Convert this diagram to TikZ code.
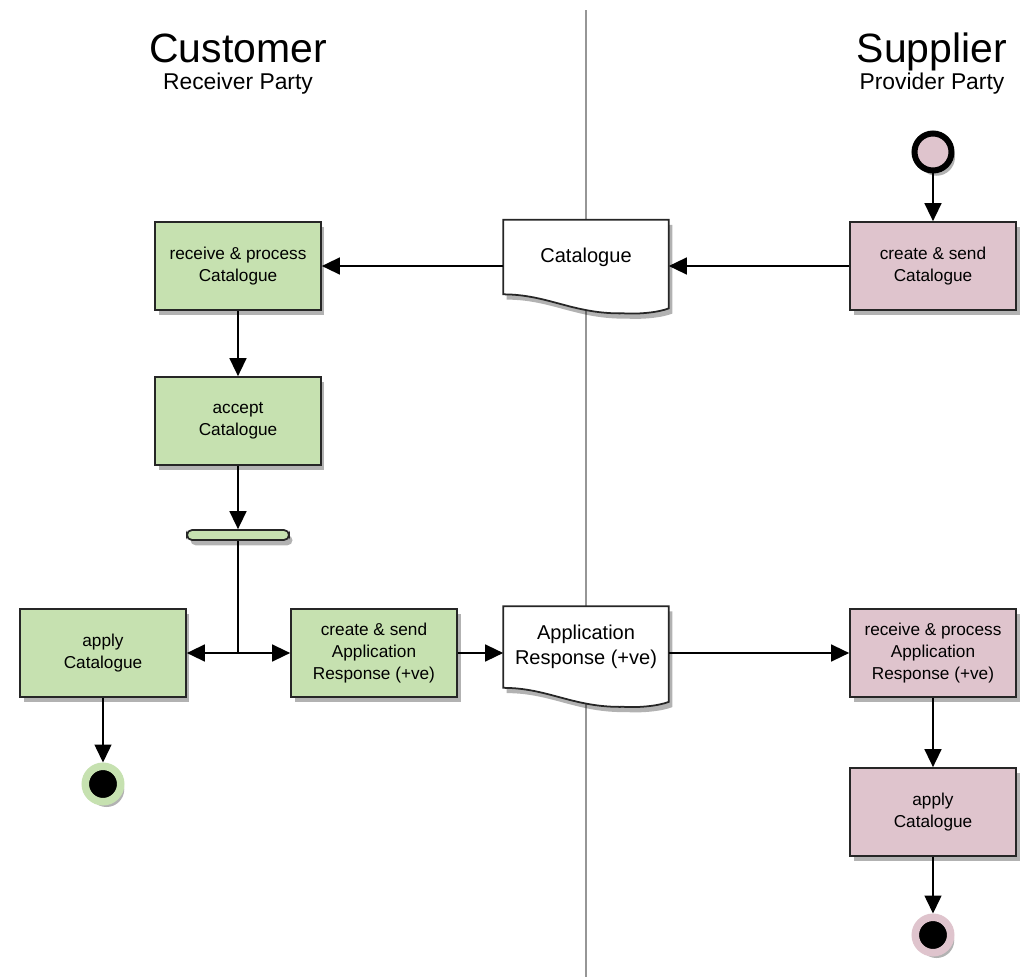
\documentclass[tikz,border=0pt]{standalone}
\usepackage{fontspec}
\setmainfont{Liberation Sans}
\usetikzlibrary{arrows.meta,shadows,calc,backgrounds}

\definecolor{custgreen}{RGB}{198,225,176}
\definecolor{supppink}{RGB}{223,196,205}
\definecolor{lanegray}{RGB}{150,150,150}

\tikzset{
  soft shadow/.style={drop shadow={shadow xshift=2pt, shadow yshift=-3pt, opacity=0.3, fill=black}},
  act/.style={draw=black!85, line width=1pt, minimum width=3.32cm, minimum height=1.76cm,
    align=center, inner sep=2pt, font=\fontsize{9.8}{12.5}\selectfont, soft shadow},
  custact/.style={act, fill=custgreen},
  suppact/.style={act, fill=supppink},
  docnode/.style={minimum width=3.3cm, align=center, inner sep=0pt,
    font=\fontsize{11.4}{14}\selectfont},
  docline/.style={draw=black!85, line width=1pt, fill=white, soft shadow},
  forkbar/.style={draw=black!85, line width=1pt, fill=custgreen, rounded corners=0.1cm,
    minimum width=2.04cm, minimum height=0.2cm, inner sep=0pt, soft shadow},
  startnode/.style={circle, draw=black, line width=0.12cm, fill=supppink,
    minimum size=0.74cm, inner sep=0pt, soft shadow},
  endnode/.style={circle, fill=black, line width=0.15cm, minimum size=0.71cm,
    inner sep=0pt, soft shadow},
  flow/.style={line width=0.85pt, -{Triangle[length=0.36cm, width=0.34cm]}},
  lane/.style={draw=lanegray, line width=1.2pt},
  title/.style={anchor=base, font=\fontsize{23.3}{28}\selectfont},
  subtitle/.style={anchor=base, font=\fontsize{13}{16}\selectfont}
}

% wavy document outline round a node
\newcommand{\docoutline}[1]{%
  \draw[docline] (#1.north west) -- (#1.north east) -- ($(#1.south east)+(0,14)$)
    .. controls ($(#1.south east)+(-10,18)$) and ($(#1.south east)+(-30,20)$) .. ($(#1.south east)+(-45,19)$)
    .. controls ($(#1.south west)+(70,20)$) and ($(#1.south west)+(45,0)$) .. (#1.south west) -- cycle;}

\begin{document}
\begin{tikzpicture}[x=0.02cm, y=-0.02cm]
	\useasboundingbox (0,0) rectangle (1022,977);

	% lane headings
	\node[title] (cust) at (238,62) {Customer};
	\node[subtitle] (custrole) at (238,90) {Receiver Party};
	\node[title] (supp) at (932,62) {Supplier};
	\node[subtitle] (supprole) at (932,90) {Provider Party};

	% supplier lane
	\node[startnode] (start) at (933,152) {};
	\node[suppact] (sendcat) at (933,266) {create \& send\\Catalogue};
	\node[suppact] (recvresp) at (933,653) {receive \& process\\Application\\Response (+ve)};
	\node[suppact] (suppapply) at (933,812) {apply\\Catalogue};
	\node[endnode, draw=supppink] (suppend) at (933,935) {};

	% documents
	\node[docnode, minimum height=1.48cm] (cat) at (586,257) {Catalogue};
	\node[docnode, minimum height=1.62cm] (resp) at (586,647) {Application\\Response (+ve)};

	% customer lane
	\node[custact] (recvcat) at (238,266) {receive \& process\\Catalogue};
	\node[custact] (accept) at (238,421) {accept\\Catalogue};
	\node[forkbar] (fork) at (238,535) {};
	\coordinate (split) at (238,653);
	\node[custact] (custapply) at (103,653) {apply\\Catalogue};
	\node[custact] (sendresp) at (374,653) {create \& send\\Application\\Response (+ve)};
	\node[endnode, draw=custgreen] (custend) at (103,784) {};

	\begin{scope}[on background layer]
		\coordinate (lanetop) at (586,10);
		\coordinate (lanebot) at (586,977);
		\draw[lane] (lanetop) -- (lanebot);
		\docoutline{cat}
		\docoutline{resp}
	\end{scope}

	% flows
	\draw[flow] (start) -- (sendcat);
	\draw[flow] (sendcat.west) -- (sendcat.west -| cat.east);
	\draw[flow] (recvcat.east -| cat.west) -- (recvcat.east);
	\draw[flow] (recvcat) -- (accept);
	\draw[flow] (accept) -- (fork);
	\draw[line width=0.85pt] (fork.south) -- (split);
	\draw[flow] (split) -- (custapply);
	\draw[flow] (split) -- (sendresp);
	\draw[flow] (custapply) -- (custend);
	\draw[flow] (sendresp.east) -- (sendresp.east -| resp.west);
	\draw[flow] (recvresp.west -| resp.east) -- (recvresp.west);
	\draw[flow] (recvresp) -- (suppapply);
	\draw[flow] (suppapply) -- (suppend);
\end{tikzpicture}
\end{document}
